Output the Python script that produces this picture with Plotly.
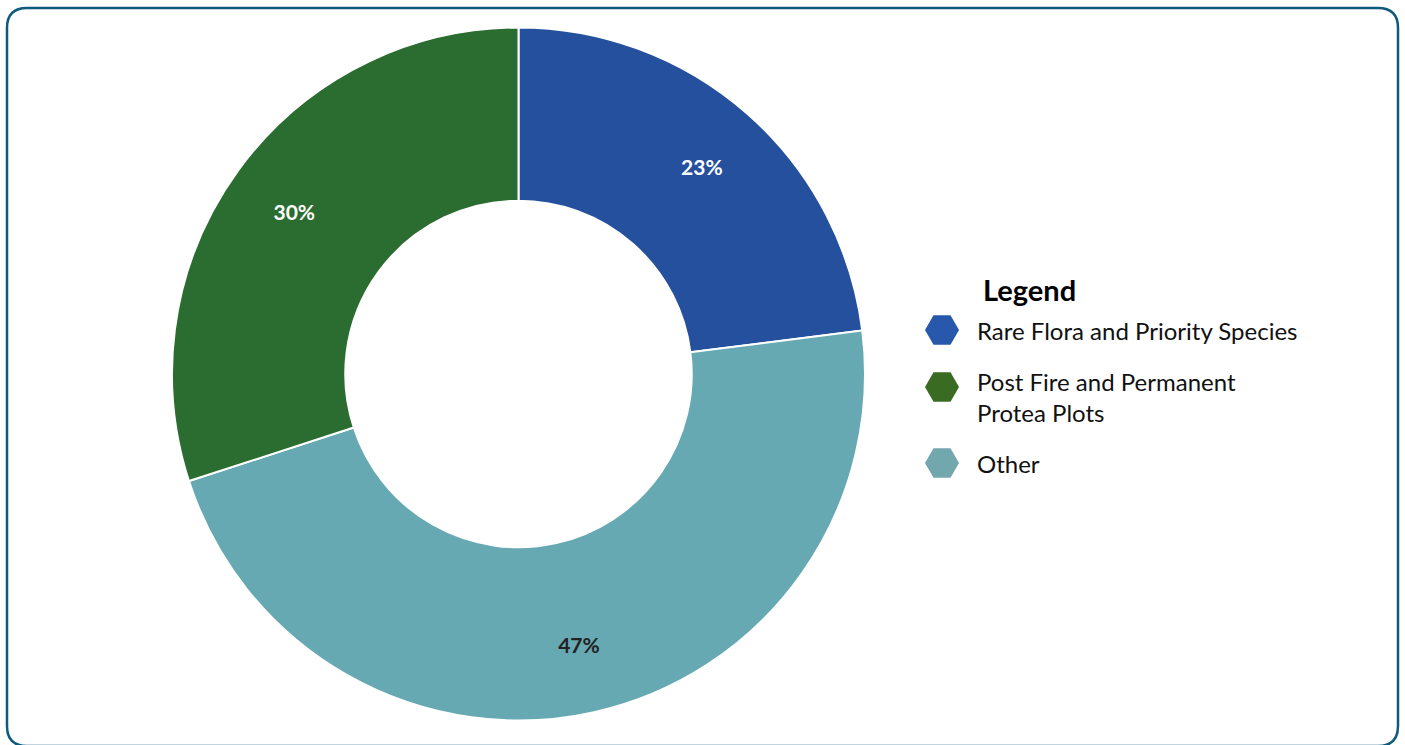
import plotly.graph_objects as go

# ---- data ----
categories = ["Rare Flora and Priority Species", "Post Fire and Permanent Protea Plots", "Other"]
values = [23, 30, 47]
slice_colors = ["#24509E", "#2B6C30", "#66A9B3"]
legend_colors = ["#2758AB", "#3A6B22", "#72A7AE"]
legend_labels = ["Rare Flora and Priority Species", "Post Fire and Permanent<br>Protea Plots", "Other"]
label_colors = ["#FFFFFF", "#FFFFFF", "#222222"]
pie_order = [0, 2, 1]  # clockwise from 12 o'clock

W, H = 1405, 745
FONT = "Lato, 'Open Sans', sans-serif"
pie_domain = dict(x=[172 / W, 865 / W], y=[1 - 721 / H, 1 - 27 / H])

fig = go.Figure()

# slices
fig.add_trace(go.Pie(
    labels=[categories[i] for i in pie_order],
    values=[values[i] for i in pie_order],
    marker=dict(colors=[slice_colors[i] for i in pie_order], line=dict(color="white", width=2)),
    textinfo="none",
    sort=False,
    direction="clockwise",
    rotation=0,
    hole=0.5,
    showlegend=False,
    hoverinfo="label+percent",
    domain=pie_domain,
))

# percentage labels (transparent ring, labels sit at 80% of radius)
fig.add_trace(go.Pie(
    labels=[categories[i] for i in pie_order],
    values=[values[i] for i in pie_order],
    marker=dict(colors=["rgba(0,0,0,0)"] * len(values), line=dict(width=0)),
    textfont=dict(color=[label_colors[i] for i in pie_order], size=21, family=FONT, weight="bold"),
    textinfo="percent",
    textposition="inside",
    insidetextorientation="horizontal",
    sort=False,
    direction="clockwise",
    rotation=0,
    hole=0.6,
    showlegend=False,
    hoverinfo="skip",
    domain=pie_domain,
))

# ---- custom legend (hexagon markers) ----
leg_x_marker = 942
leg_x_text = 975
first_y = 330
item_gap = 51
line_h = 31

marker_ys = []
annotations = []
y = first_y
for lab in legend_labels:
    lines = lab.split("<br>")
    marker_ys.append(y + 6 * (len(lines) - 1))
    for k, ln in enumerate(lines):
        annotations.append(dict(
            x=leg_x_text, y=y + k * line_h, xref="x", yref="y", text=ln,
            showarrow=False, xanchor="left", yanchor="middle",
            font=dict(family=FONT, size=24, color="#111111"),
        ))
    y += item_gap + line_h * (len(lines) - 1)

fig.add_trace(go.Scatter(
    x=[leg_x_marker] * len(legend_labels), y=marker_ys, mode="markers",
    marker=dict(symbol="hexagon2", size=34, color=legend_colors, line=dict(width=0)),
    showlegend=False, hoverinfo="skip",
))

annotations.append(dict(
    x=981, y=289, xref="x", yref="y", text="<b>Legend</b>", showarrow=False,
    xanchor="left", yanchor="middle",
    font=dict(family=FONT, size=29, color="#000000", weight=900),
))

# rounded border (bottom edge runs just past the page bottom)
x0, x1, y0, y1, r = 7, 1398, 8, 746, 20
border = (f"M {x0+r},{y0} H {x1-r} Q {x1},{y0} {x1},{y0+r} V {y1-r} Q {x1},{y1} {x1-r},{y1} "
          f"H {x0+r} Q {x0},{y1} {x0},{y1-r} V {y0+r} Q {x0},{y0} {x0+r},{y0} Z")

fig.update_layout(
    width=W, height=H,
    margin=dict(l=0, r=0, t=0, b=0),
    paper_bgcolor="white", plot_bgcolor="rgba(0,0,0,0)",
    xaxis=dict(range=[0, W], visible=False, fixedrange=True),
    yaxis=dict(range=[H, 0], visible=False, fixedrange=True),
    annotations=annotations,
    shapes=[dict(type="path", path=border, xref="x", yref="y",
                 line=dict(color="#0E5A7C", width=2.5), layer="below")],
    font=dict(family=FONT),
)

fig.write_html("out.html", config={"displayModeBar": False},
               post_script="document.body.style.margin='0';document.body.style.overflow='hidden';")
